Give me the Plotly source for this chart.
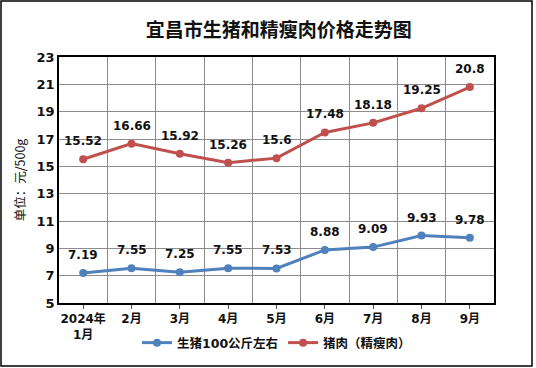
import plotly.graph_objects as go

months = ["2024年<br>1月", "2月", "3月", "4月", "5月", "6月", "7月", "8月", "9月"]
live_hog = [7.19, 7.55, 7.25, 7.55, 7.53, 8.88, 9.09, 9.93, 9.78]
lean_pork = [15.52, 16.66, 15.92, 15.26, 15.6, 17.48, 18.18, 19.25, 20.8]
y_ticks = [5, 7, 9, 11, 13, 15, 17, 19, 21, 23]

BLUE = "#4F81BD"
RED = "#C0504D"
FONT = "DejaVu Sans, Noto Sans CJK SC"
CJK = "Noto Sans CJK SC"
xs = list(range(len(months)))

fig = go.Figure()
fig.add_trace(go.Scatter(x=xs, y=live_hog, mode="lines+markers", name="<b>生猪100公斤左右</b>",
                         line=dict(color=BLUE, width=3), marker=dict(size=8, color=BLUE)))
fig.add_trace(go.Scatter(x=xs, y=lean_pork, mode="lines+markers", name="<b>猪肉（精瘦肉）</b>",
                         line=dict(color=RED, width=3), marker=dict(size=8, color=RED)))

anns = []
for series in (live_hog, lean_pork):
    for x, v in zip(xs, series):
        anns.append(dict(x=x, y=v, xref="x", yref="y", text=f"<b>{v:g}</b>", showarrow=False,
                         yshift=18, font=dict(family=FONT, size=12, color="#111"),
                         xanchor="center", yanchor="middle"))

W, H = 536, 368
L, R, T, B = 59, 42, 57, 65
pw, ph = W - L - R, H - T - B
fig.update_layout(
    width=W, height=H,
    margin=dict(l=L, r=R, t=T, b=B, autoexpand=False),
    paper_bgcolor="white", plot_bgcolor="white",
    font=dict(family=FONT, color="#111"),
    title=dict(text="<b>宜昌市生猪和精瘦肉价格走势图</b>", x=0.52, xanchor="center",
               y=1 - 30 / H, yanchor="middle", font=dict(size=19, family=CJK, color="#111")),
    showlegend=True,
    legend=dict(orientation="h", x=0.5, xanchor="center", yref="container", y=1 - 343 / H,
                yanchor="middle",
                font=dict(size=12.5, family=FONT, color="#111"), itemwidth=30,
                bgcolor="rgba(0,0,0,0)"),
    annotations=anns,
    shapes=[dict(type="rect", xref="paper", yref="paper",
                 x0=(1 - L) / pw, x1=(532 - L) / pw,
                 y0=(H - B - 366) / ph, y1=(H - B - 1) / ph,
                 line=dict(color="black", width=1.5), fillcolor="rgba(0,0,0,0)", layer="below")],
)
fig.update_xaxes(
    range=[-0.5, len(months) - 0.5], tickvals=xs, ticktext=[f"<b>{m}</b>" for m in months],
    showgrid=False, ticks="outside", ticklen=4, tickcolor="#555",
    showline=True, linecolor="black", linewidth=1.5, mirror=True, zeroline=False,
    tickfont=dict(size=12, family=FONT, color="#111"),
    minor=dict(tick0=0.5, dtick=1, showgrid=True, gridcolor="#8c8c8c", gridwidth=1, ticks=""),
)
fig.update_yaxes(
    range=[5, 23], tickvals=y_ticks, ticktext=[f"<b>{t}</b>" for t in y_ticks],
    showgrid=True, gridcolor="#8c8c8c", gridwidth=1, zeroline=False,
    showline=True, linecolor="black", linewidth=1.5, mirror=True,
    ticks="", tickfont=dict(size=13, family=FONT, color="#111"),
    title=dict(text="单位：元/500g", font=dict(size=12.5, family=CJK, color="#111"), standoff=8),
)

fig.write_html("out.html", config={"displayModeBar": False},
               post_script="document.body.style.margin='0';")
